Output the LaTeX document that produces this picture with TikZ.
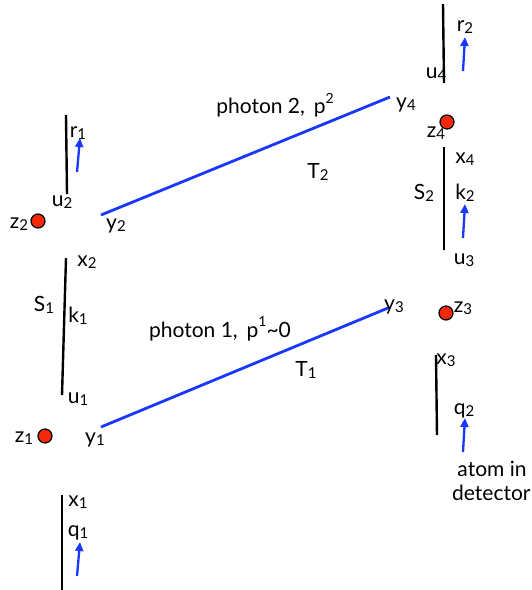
\documentclass[tikz,border=0pt]{standalone}
\usepackage{fontspec}
\setmainfont{Lato}
\usetikzlibrary{arrows.meta}
\definecolor{lineblue}{RGB}{25,55,255}
\definecolor{dotred}{RGB}{245,40,10}
\newcommand\sbs[1]{\raisebox{-0.08em}{\fontsize{15}{15}\selectfont #1}}
\newcommand\sps[1]{\raisebox{0.5em}{\fontsize{14}{14}\selectfont #1}}
\tikzset{
  lbl/.style={inner sep=0pt, font=\fontsize{21}{23}\selectfont},
  worldline/.style={line width=2.4pt, black},
  photon/.style={line width=2.8pt, lineblue},
  mom/.style={line width=2.3pt, lineblue, -{Triangle[length=9pt,width=8pt]}},
  atomdot/.style={circle, draw=black, line width=1.2pt, fill=dotred, minimum size=14pt, inner sep=0pt}
}
\begin{document}
\begin{tikzpicture}[x=1pt,y=-1pt]
\useasboundingbox (0,0) rectangle (532,590);
% world lines (black)
\coordinate (a1) at (66,115); \coordinate (a2) at (67,194);
\coordinate (b1) at (66,258); \coordinate (b2) at (62,395);
\coordinate (c1) at (62,495); \coordinate (c2) at (62,590);
\coordinate (d1) at (443,4);  \coordinate (d2) at (444,83);
\coordinate (e1) at (444,147); \coordinate (e2) at (444,250);
\coordinate (f1) at (436,355); \coordinate (f2) at (437,435);
\draw[worldline] (a1) -- (a2);
\draw[worldline] (b1) -- (b2);
\draw[worldline] (c1) -- (c2);
\draw[worldline] (d1) -- (d2);
\draw[worldline] (e1) -- (e2);
\draw[worldline] (f1) -- (f2);
% photons
\coordinate (p2s) at (101,215); \coordinate (p2e) at (390,97);
\coordinate (p1s) at (101,427); \coordinate (p1e) at (388,308);
\draw[photon] (p2s) -- (p2e);
\draw[photon] (p1s) -- (p1e);
% momentum arrows
\coordinate (m1s) at (77,172); \coordinate (m1e) at (80,138);
\coordinate (m2s) at (77,576); \coordinate (m2e) at (80,542);
\coordinate (m3s) at (463,71); \coordinate (m3e) at (465,37);
\coordinate (m4s) at (463,238); \coordinate (m4e) at (465,204);
\coordinate (m5s) at (463,452); \coordinate (m5e) at (465,418);
\draw[mom] (m1s) -- (m1e);
\draw[mom] (m2s) -- (m2e);
\draw[mom] (m3s) -- (m3e);
\draw[mom] (m4s) -- (m4e);
\draw[mom] (m5s) -- (m5e);
% atoms
\node[atomdot] (dz2) at (38,221) {};
\node[atomdot] (dz1) at (45,436) {};
\node[atomdot] (dz4) at (447,122) {};
\node[atomdot] (dz3) at (446,313) {};
% labels left
\node[lbl] (r1) at (78,133) {r\sbs{1}};
\node[lbl] (u2) at (62,202) {u\sbs{2}};
\node[lbl] (z2) at (19,224) {z\sbs{2}};
\node[lbl] (y2) at (116,226) {y\sbs{2}};
\node[lbl] (x2) at (87,262) {x\sbs{2}};
\node[lbl] (S1) at (44,305) {S\sbs{1}};
\node[lbl] (k1) at (78,316) {k\sbs{1}};
\node[lbl] (u1) at (78,399) {u\sbs{1}};
\node[lbl] (z1) at (24,438) {z\sbs{1}};
\node[lbl] (y1) at (95,440) {y\sbs{1}};
\node[lbl] (x1) at (78,502) {x\sbs{1}};
\node[lbl] (q1) at (78,533) {q\sbs{1}};
% labels right
\node[lbl] (r2) at (465,27) {r\sbs{2}};
\node[lbl] (u4) at (436,74) {u\sbs{4}};
\node[lbl] (y4) at (406,105) {y\sbs{4}};
\node[lbl] (z4) at (436,133) {z\sbs{4}};
\node[lbl] (x4) at (465,159) {x\sbs{4}};
\node[lbl] (S2) at (424,193) {S\sbs{2}};
\node[lbl] (k2) at (465,193) {k\sbs{2}};
\node[lbl] (u3) at (464,260) {u\sbs{3}};
\node[lbl] (y3) at (394,307) {y\sbs{3}};
\node[lbl] (z3) at (463,308) {z\sbs{3}};
\node[lbl] (x3) at (446,360) {x\sbs{3}};
\node[lbl] (q2) at (464,411) {q\sbs{2}};
\node[lbl] (atom) at (492,469) {atom in};
\node[lbl, anchor=west] (det) at (452,493) {detector};
% photon labels
\node[lbl] (ph2) at (275,105) {photon 2,\, p\sps{2}};
\node[lbl] (T2) at (318,172) {T\sbs{2}};
\node[lbl] (ph1) at (220,329) {photon 1,\, p\sps{1}\textasciitilde 0};
\node[lbl] (T1) at (306,370) {T\sbs{1}};
\end{tikzpicture}
\end{document}
